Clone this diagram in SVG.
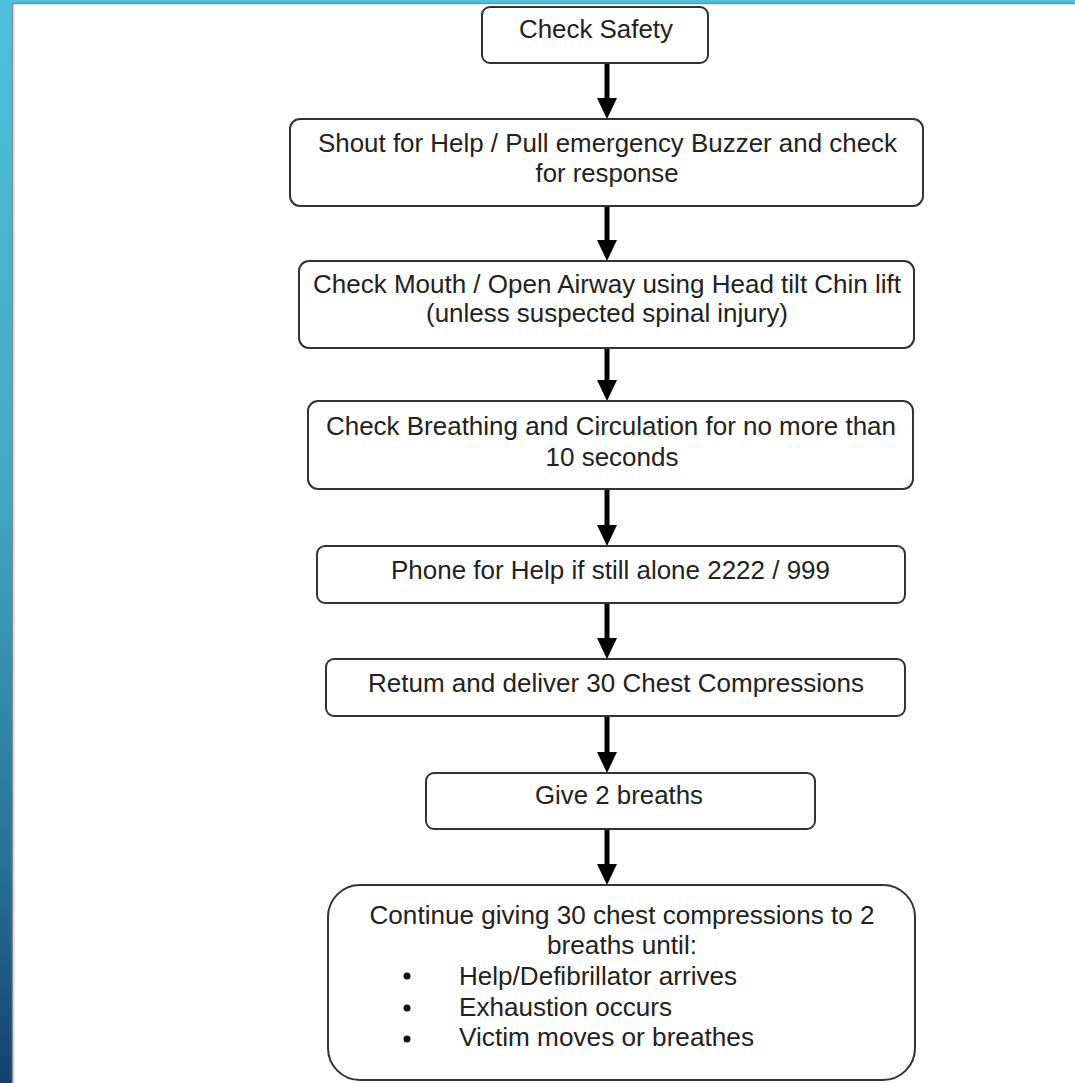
<svg xmlns="http://www.w3.org/2000/svg" width="1075" height="1083" viewBox="0 0 1075 1083">
  <defs>
    <linearGradient id="strip" x1="0" y1="0" x2="0" y2="1">
      <stop offset="0" stop-color="#4dc1dc"/>
      <stop offset="0.45" stop-color="#43a8c4"/>
      <stop offset="0.8" stop-color="#287099"/>
      <stop offset="1" stop-color="#15416d"/>
    </linearGradient>
    <marker id="head" markerUnits="userSpaceOnUse" markerWidth="22" markerHeight="22" viewBox="0 -11 22 22" refX="0" refY="0" orient="auto">
      <path d="M0,-10 L21,0 L0,10 Z" fill="#000"/>
    </marker>
    <style>
      .box { fill: #fff; stroke: #333; stroke-width: 2; }
      .t { font-family: "Liberation Sans", Arial, sans-serif; font-size: 25px; fill: #222; }
      .c { text-anchor: middle; }
      .arrow { stroke: #000; stroke-width: 5; fill: none; marker-end: url(#head); }
      .bullet { fill: #111; }
    </style>
  </defs>

  <rect x="0" y="0" width="1075" height="1083" fill="#fff"/>
  <g id="frame">
    <rect x="0" y="0" width="1075" height="3" fill="#4dc1dc"/>
    <rect x="0" y="0" width="12" height="1083" fill="url(#strip)"/>
    <line x1="12.5" y1="3" x2="12.5" y2="1083" stroke="#8a8a8a" stroke-width="1.5"/>
    <line x1="14" y1="4" x2="14" y2="1083" stroke="#d0d0d0" stroke-width="1"/>
    <line x1="12" y1="3.5" x2="1075" y2="3.5" stroke="#8a8a8a" stroke-width="1.5"/>
  </g>

  <g id="connectors">
    <line class="arrow" x1="607" y1="63" x2="607" y2="98"/>
    <line class="arrow" x1="607" y1="206" x2="607" y2="240"/>
    <line class="arrow" x1="607" y1="348" x2="607" y2="380"/>
    <line class="arrow" x1="607" y1="489" x2="607" y2="525"/>
    <line class="arrow" x1="607" y1="603" x2="607" y2="638"/>
    <line class="arrow" x1="607" y1="716" x2="607" y2="752"/>
    <line class="arrow" x1="607" y1="829" x2="607" y2="864"/>
  </g>

  <g id="n1">
    <rect class="box" x="482" y="7" width="226" height="56" rx="8"/>
    <text class="t c" x="596" y="38" textLength="154" lengthAdjust="spacingAndGlyphs">Check Safety</text>
  </g>
  <g id="n2">
    <rect class="box" x="290" y="119" width="633" height="87" rx="10"/>
    <text class="t c" x="607.5" y="152" textLength="579" lengthAdjust="spacingAndGlyphs">Shout for Help / Pull emergency Buzzer and check</text>
    <text class="t c" x="607" y="182" textLength="143" lengthAdjust="spacingAndGlyphs">for response</text>
  </g>
  <g id="n3">
    <rect class="box" x="299" y="261" width="615" height="87" rx="10"/>
    <text class="t c" x="607" y="293" textLength="588" lengthAdjust="spacingAndGlyphs">Check Mouth / Open Airway using Head tilt Chin lift</text>
    <text class="t c" x="607" y="322" textLength="362" lengthAdjust="spacingAndGlyphs">(unless suspected spinal injury)</text>
  </g>
  <g id="n4">
    <rect class="box" x="308" y="401" width="605" height="88" rx="10"/>
    <text class="t c" x="611" y="435" textLength="570" lengthAdjust="spacingAndGlyphs">Check Breathing and Circulation for no more than</text>
    <text class="t c" x="612" y="466" textLength="133" lengthAdjust="spacingAndGlyphs">10 seconds</text>
  </g>
  <g id="n5">
    <rect class="box" x="317" y="546" width="588" height="57" rx="8"/>
    <text class="t c" x="610.5" y="579" textLength="439" lengthAdjust="spacingAndGlyphs">Phone for Help if still alone 2222 / 999</text>
  </g>
  <g id="n6">
    <rect class="box" x="326" y="659" width="579" height="57" rx="8"/>
    <text class="t c" x="616" y="692" textLength="496" lengthAdjust="spacingAndGlyphs">Retum and deliver 30 Chest Compressions</text>
  </g>
  <g id="n7">
    <rect class="box" x="426" y="773" width="389" height="56" rx="8"/>
    <text class="t c" x="619" y="804" textLength="168" lengthAdjust="spacingAndGlyphs">Give 2 breaths</text>
  </g>
  <g id="n8">
    <rect class="box" x="328" y="885" width="587" height="195" rx="32"/>
    <text class="t c" x="622" y="924" textLength="505" lengthAdjust="spacingAndGlyphs">Continue giving 30 chest compressions to 2</text>
    <text class="t c" x="622" y="954" textLength="150" lengthAdjust="spacingAndGlyphs">breaths until:</text>
    <circle class="bullet" cx="407" cy="976" r="3.5"/>
    <text class="t" x="459" y="985" textLength="278" lengthAdjust="spacingAndGlyphs">Help/Defibrillator arrives</text>
    <circle class="bullet" cx="407" cy="1008" r="3.5"/>
    <text class="t" x="459" y="1016" textLength="213" lengthAdjust="spacingAndGlyphs">Exhaustion occurs</text>
    <circle class="bullet" cx="407" cy="1039" r="3.5"/>
    <text class="t" x="459" y="1046" textLength="295" lengthAdjust="spacingAndGlyphs">Victim moves or breathes</text>
  </g>
</svg>
